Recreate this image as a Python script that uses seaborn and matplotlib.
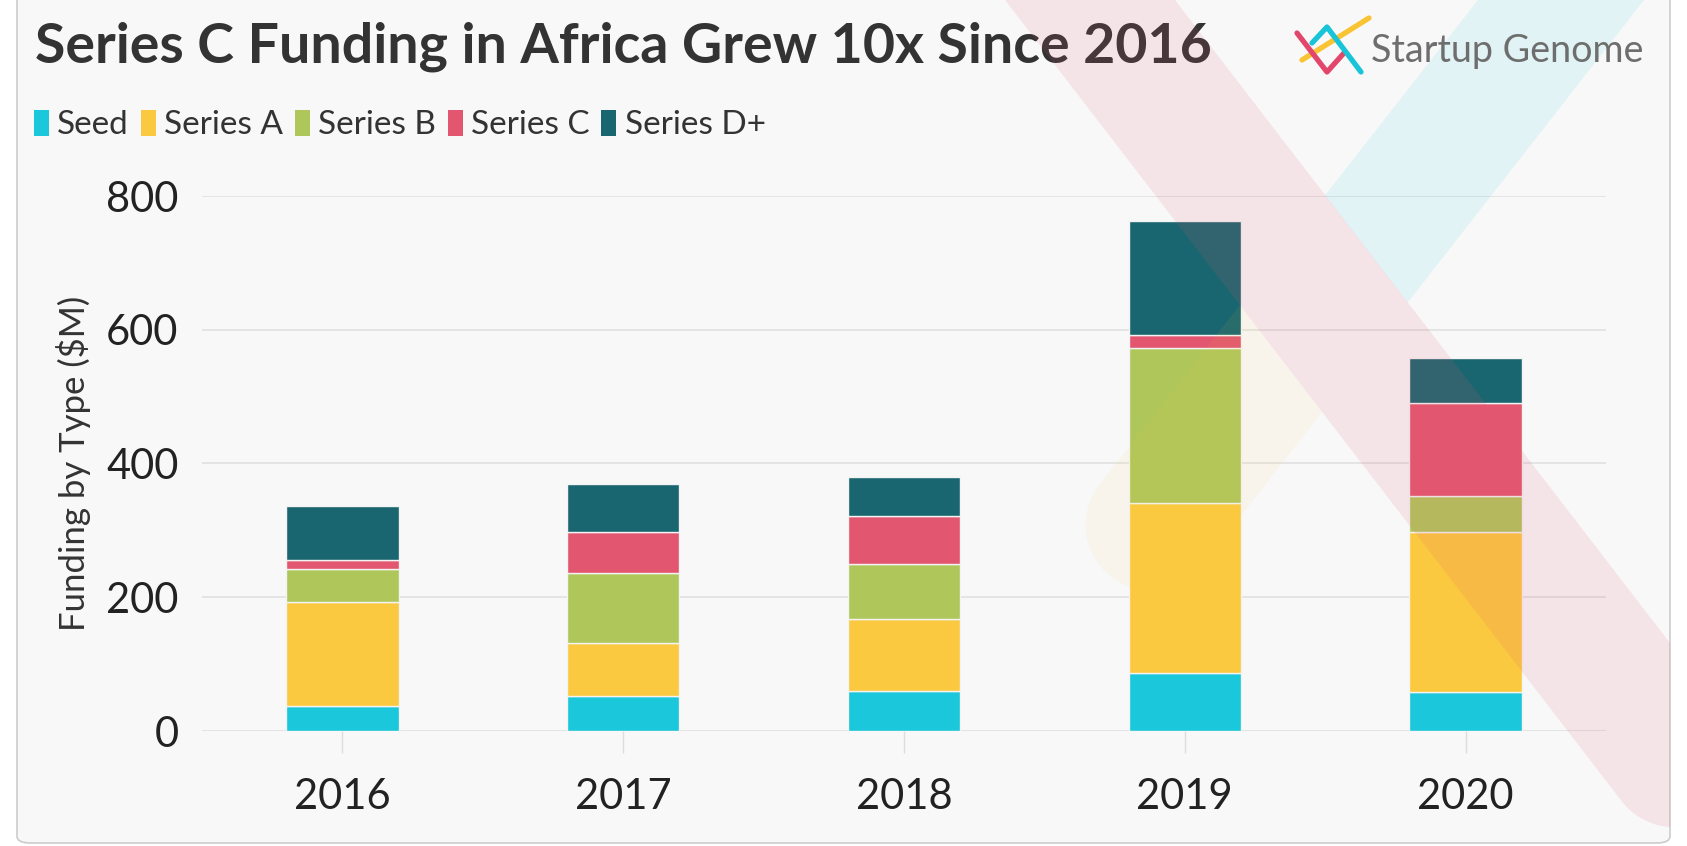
import numpy as np
import pandas as pd
import seaborn as sns
import matplotlib
matplotlib.use("Agg")
import matplotlib.pyplot as plt
from matplotlib.lines import Line2D
from matplotlib.patches import FancyBboxPatch, Patch, Polygon

# ---- data ----
years = ["2016", "2017", "2018", "2019", "2020"]
series = ["Seed", "Series A", "Series B", "Series C", "Series D+"]
seed = [37, 53, 60, 87, 58]
series_a = [156, 78, 107, 254, 239]
series_b = [49, 106, 83, 232, 55]
series_c = [14, 61, 71, 19, 139]
series_d = [80, 71, 59, 171, 67]
yticks = [0, 200, 400, 600, 800]
title = "Series C Funding in Africa Grew 10x Since 2016"
ylabel = "Funding by Type ($M)"
brand = "Startup Genome"

colors = ["#1BC7DA", "#FBC940", "#AFC65A", "#E2566F", "#1A6670"]

W, H = 1687, 846
sns.set_theme(style="white")
plt.rcParams["font.family"] = ["Lato", "DejaVu Sans"]

fig = plt.figure(figsize=(W / 100, H / 100), dpi=100, facecolor="white")


def fx(x):
    return x / W


def fy(y):
    return 1 - y / H


card = FancyBboxPatch((fx(17), fy(843)), fx(1670) - fx(17), fy(-30) - fy(843),
                      boxstyle="round,pad=0,rounding_size=0.008",
                      transform=fig.transFigure, facecolor="#f8f8f8",
                      edgecolor="#cccccc", lw=1.2, zorder=-5)
fig.patches.append(card)

ax = fig.add_axes([fx(202), fy(731), fx(1606) - fx(202), fy(196) - fy(731)])
ax.set_facecolor("none")
ax.set_zorder(1)

data = [seed, series_a, series_b, series_c, series_d]
bottom = np.zeros(len(years))
for name, vals, c in zip(series, data, colors):
    vals = np.array(vals, dtype=float)
    sns.barplot(x=years, y=vals, bottom=bottom.copy(), color=c, width=0.4,
                saturation=1, ax=ax, label=name, edgecolor="#f3f3f3",
                linewidth=1.0, zorder=3)
    bottom += vals

ax.set_ylim(0, 800)
ax.set_xlim(-0.5, 4.5)
ax.set_yticks(yticks)
ax.yaxis.grid(True, color="#e2e2e2", lw=1.3)
ax.xaxis.grid(False)
ax.set_axisbelow(True)
for s in ax.spines.values():
    s.set_visible(False)
ax.tick_params(axis="y", length=0, pad=17, labelsize=30, labelcolor="#222222")
ax.tick_params(axis="x", length=16, width=1, color="#dddddd", pad=18,
               labelsize=30, labelcolor="#222222", bottom=True)
ax.set_xlabel("")
ax.set_ylabel(ylabel, fontsize=25, color="#333333")
ax.yaxis.set_label_coords(-0.079, 0.5)
if ax.get_legend() is not None:
    ax.get_legend().remove()

# title
t_title = fig.text(fx(35), fy(62), title, fontsize=42, fontweight="bold",
                   color="#333333", va="baseline", ha="left")

# legend
handles = [Patch(facecolor=c, edgecolor="none") for c in colors]
fig.legend(handles, series, loc="center left",
           bbox_to_anchor=(fx(34), fy(125)), bbox_transform=fig.transFigure,
           ncol=5, frameon=False, fontsize=24, handlelength=0.45,
           handleheight=0.85, handletextpad=0.25, columnspacing=0.35,
           borderpad=0, borderaxespad=0, labelcolor="#333333")

# ---- watermark (big faded logo), geometry in pixel space ----
def arc_points(E, d, n_left, r, k=40):
    pts = []
    for phi in np.linspace(-np.pi / 2, np.pi / 2, k):
        pts.append(E + r * (np.cos(phi) * d + np.sin(phi) * n_left))
    return pts


def add_poly(pts, color, alpha):
    poly = Polygon([(fx(p[0]), fy(p[1])) for p in pts], closed=True,
                   transform=fig.transFigure, facecolor=color, alpha=alpha,
                   edgecolor="none", zorder=10)
    fig.add_artist(poly)
    poly.set_clip_path(card)


# pink band: centre x = 1090 + y/1.3
sp = 1.3
d_p = np.array([1.0, sp]) / np.hypot(1, sp)
nl_p = np.array([-sp, 1.0]) / np.hypot(1, sp)
r_p = 85 * sp / np.hypot(1, sp)
E_p = np.array([1675.0, 760.0])
pink = [np.array([1005 - 40 / sp, -40.0]), np.array([1175 - 40 / sp, -40.0])]
pink += arc_points(E_p, d_p, nl_p, r_p)
add_poly(pink, "#E2566F", 0.12)

# blue / yellow band: centre x = 1561 - y/1.28
sb = 1.28
blue = [(1478 + 40 / sb, -40), (1644 + 40 / sb, -40), (1407.7, 302.5),
        (1325, 195.4)]
add_poly(blue, "#1BC7DA", 0.10)

d_y = np.array([-1.0 / sb, 1.0]) / np.hypot(1.0 / sb, 1.0)
nl_y = np.array([-1.0, -1.0 / sb]) / np.hypot(1.0, 1.0 / sb)
r_y = 83 * sb / np.hypot(1, sb)
E_y = np.array([1151.0, 525.0])
yellow = [np.array([1240.0, 305.0]), np.array([1322.0, 412.0])]
yellow += arc_points(E_y, d_y, nl_y, r_y)
add_poly(yellow, "#FBC940", 0.07)

# logo
def logo_line(pts, color):
    xs = [fx(p[0]) for p in pts]
    ys = [fy(p[1]) for p in pts]
    fig.add_artist(Line2D(xs, ys, transform=fig.transFigure, lw=3.8,
                          color=color, solid_capstyle="round",
                          solid_joinstyle="round", zorder=11))


logo_line([(1302, 60), (1369, 18)], "#F9C332")
logo_line([(1297, 33), (1327, 72), (1344, 53)], "#E2466A")
logo_line([(1312, 43), (1327, 27), (1361, 72)], "#19C3D8")

t_brand = fig.text(fx(1371), fy(62), brand, fontsize=25, color="#6e6e6e",
                   va="baseline", ha="left", zorder=11)

# fit text widths
fig.canvas.draw()
r = fig.canvas.get_renderer()
for t, target in [(t_title, 1177), (t_brand, 274)]:
    w = t.get_window_extent(r).width
    t.set_fontsize(t.get_fontsize() * target / w)

fig.savefig("out.png", dpi=100, facecolor=fig.get_facecolor())
